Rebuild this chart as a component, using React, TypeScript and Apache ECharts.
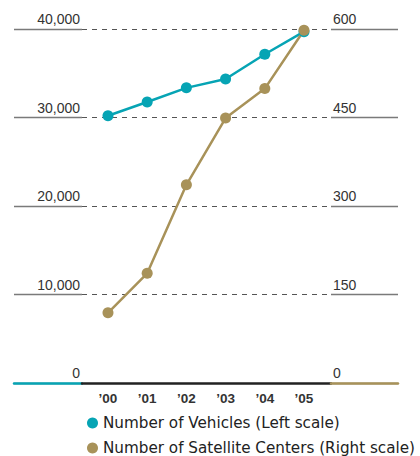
import React, { useEffect, useRef } from "react";
import * as echarts from "echarts";

const years = ["\u201900", "\u201901", "\u201902", "\u201903", "\u201904", "\u201905"];
const vehicles = [30200, 31750, 33350, 34350, 37150, 39700];
const centers = [119, 186, 336, 449, 499, 598];
const leftTicks = [0, 10000, 20000, 30000, 40000];
const rightTicks = [0, 150, 300, 450, 600];

const CYAN = "#06a4b4";
const TAN = "#a89259";
const FONT = "Liberation Sans";

export default function App() {
  const ref = useRef<HTMLDivElement>(null);
  useEffect(() => {
    if (!ref.current) return;
    const chart = echarts.init(ref.current, undefined, { renderer: "svg" });
    const top = 29;
    const height = 354;
    const labelStyle = {
      color: "#333",
      fontSize: 14,
      fontFamily: FONT,
      verticalAlign: "bottom" as const,
      lineHeight: 16,
      padding: [0, 0, 2, 0],
    };
    chart.setOption({
      animation: false,
      grid: [
        { left: 14, width: 68, top, height },
        { left: 82, width: 249, top, height },
        { left: 331, width: 67, top, height },
      ],
      xAxis: [
        {
          gridIndex: 0, type: "value", min: 0, max: 1,
          axisLine: { show: true, lineStyle: { color: CYAN, width: 2.5 } },
          axisTick: { show: false }, axisLabel: { show: false }, splitLine: { show: false },
        },
        {
          gridIndex: 1, type: "value", min: -0.663, max: 5.689,
          axisLine: { show: true, lineStyle: { color: "#222", width: 2.5 } },
          axisTick: { show: false },
          axisLabel: {
            customValues: years.map((_, i) => i),
            formatter: (v: number) => years[Math.round(v)] ?? "",
            color: "#333", fontSize: 13.5, fontWeight: "bold", fontFamily: FONT, margin: 8,
          },
          splitLine: { show: false },
        },
        {
          gridIndex: 2, type: "value", min: 0, max: 1,
          axisLine: { show: true, lineStyle: { color: TAN, width: 2.5 } },
          axisTick: { show: false }, axisLabel: { show: false }, splitLine: { show: false },
        },
      ],
      yAxis: [
        {
          gridIndex: 0, type: "value", position: "right", min: leftTicks[0], max: leftTicks[leftTicks.length - 1], interval: 10000,
          axisLine: { show: false }, axisTick: { show: false },
          axisLabel: {
            ...labelStyle, inside: true, margin: 2,
            formatter: (v: number) => v.toLocaleString("en-US"),
          },
          splitLine: { show: true, lineStyle: { color: "#7a7a7a", width: 1.3 } },
        },
        {
          gridIndex: 1, type: "value", min: leftTicks[0], max: leftTicks[leftTicks.length - 1], interval: 10000,
          axisLine: { show: false }, axisTick: { show: false }, axisLabel: { show: false },
          splitLine: { show: true, lineStyle: { color: "#555", width: 1, type: [5, 5] } },
        },
        {
          gridIndex: 1, type: "value", min: rightTicks[0], max: rightTicks[rightTicks.length - 1], interval: 150,
          show: false, splitLine: { show: false },
        },
        {
          gridIndex: 2, type: "value", position: "left", min: rightTicks[0], max: rightTicks[rightTicks.length - 1], interval: 150,
          axisLine: { show: false }, axisTick: { show: false },
          axisLabel: { ...labelStyle, inside: true, margin: 2 },
          splitLine: { show: true, lineStyle: { color: "#7a7a7a", width: 1.3 } },
        },
      ],
      legend: {
        orient: "vertical",
        left: 87,
        top: 414,
        height: 60,
        padding: 0,
        icon: "circle",
        itemWidth: 11,
        itemHeight: 11,
        itemGap: 7,
        textStyle: { color: "#222", fontSize: 15.2, fontFamily: "DejaVu Sans", lineHeight: 18 },
        data: ["Number of Vehicles (Left scale)", "Number of Satellite Centers (Right scale)"],
      },
      series: [
        {
          name: "Number of Vehicles (Left scale)",
          type: "line",
          xAxisIndex: 1,
          yAxisIndex: 1,
          data: vehicles.map((v, i) => [i, v]),
          symbol: "circle",
          symbolSize: 11,
          itemStyle: { color: CYAN },
          lineStyle: { color: CYAN, width: 2.5 },
        },
        {
          name: "Number of Satellite Centers (Right scale)",
          type: "line",
          xAxisIndex: 1,
          yAxisIndex: 2,
          data: centers.map((v, i) => [i, v]),
          symbol: "circle",
          symbolSize: 11,
          itemStyle: { color: TAN },
          lineStyle: { color: TAN, width: 2.5 },
        },
      ],
    });
    return () => chart.dispose();
  }, []);
  return (
    <div
      ref={ref}
      style={{ position: "fixed", left: 0, top: 0, width: 420, height: 456, background: "#fff" }}
    />
  );
}
